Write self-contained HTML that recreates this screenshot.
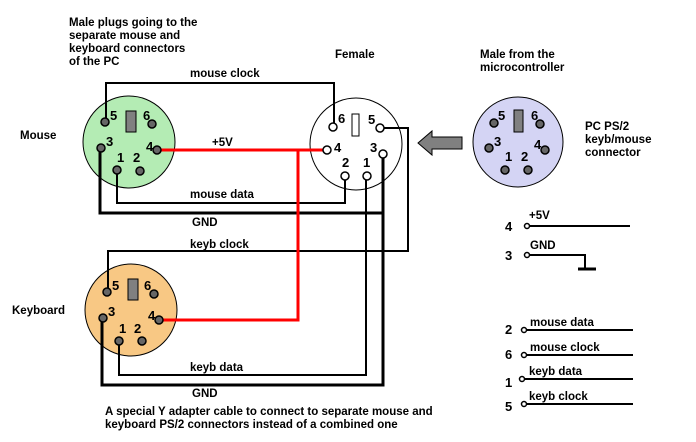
<!DOCTYPE html>
<html><head><meta charset="utf-8"><style>
html,body{margin:0;padding:0;background:#fff;}
svg{display:block;}
text{font-family:"Liberation Sans",sans-serif;font-weight:bold;font-size:11.5px;fill:#000;}
.n{font-size:13px;}
</style></head><body>
<svg width="696" height="442" viewBox="0 0 696 442" xmlns="http://www.w3.org/2000/svg">
<text x="69" y="26">Male plugs going to the</text>
<text x="69" y="39">separate mouse and</text>
<text x="69" y="52">keyboard connectors</text>
<text x="69" y="65">of the PC</text>
<text x="335" y="58">Female</text>
<text x="480" y="58">Male from the</text>
<text x="480" y="71">microcontroller</text>
<text x="190" y="77">mouse clock</text>
<text x="20" y="139">Mouse</text>
<text x="12" y="314">Keyboard</text>
<text x="212" y="146">+5V</text>
<text x="190" y="198">mouse data</text>
<text x="192" y="226">GND</text>
<text x="190" y="248">keyb clock</text>
<text x="190" y="371">keyb data</text>
<text x="192" y="397">GND</text>
<text x="105" y="415">A special Y adapter cable to connect to separate mouse and</text>
<text x="105" y="428">keyboard PS/2 connectors  instead  of a combined one</text>
<text x="585" y="130">PC PS/2</text>
<text x="585" y="143">keyb/mouse</text>
<text x="585" y="156">connector</text>

<circle cx="129" cy="142" r="46" fill="#b4ecb4" stroke="#000" stroke-width="1"/>
<circle cx="356" cy="144" r="46" fill="#fff" stroke="#000" stroke-width="1"/>
<circle cx="131" cy="310" r="46" fill="#f8c884" stroke="#000" stroke-width="1"/>
<circle cx="518" cy="142" r="45" fill="#d4d4f4" stroke="#000" stroke-width="1"/>

<rect x="126" y="111" width="10" height="21" fill="#808080" stroke="#000"/>
<rect x="352" y="114" width="7" height="22" fill="#fff" stroke="#000"/>
<rect x="128" y="279" width="10" height="21" fill="#808080" stroke="#000"/>
<rect x="514" y="110" width="9" height="22" fill="#808080" stroke="#000"/>

<g fill="none" stroke="#000" stroke-width="2">
<polyline points="106,124 106,83 334,83 334,126"/>
<polyline points="117,170 117,203 345,203 345,176"/>
<polyline points="380,128 408,128 408,251 108,251 108,292"/>
<polyline points="366,176 366,375 119,375 119,341"/>
</g>
<g fill="none" stroke="#000" stroke-width="3">
<polyline points="100,148 100,213 383,213"/>
<polyline points="383,154 383,385 102,385 102,318"/>
</g>
<g fill="none" stroke="#f00" stroke-width="3">
<polyline points="157,150 326,150"/>
<polyline points="298,150 298,320 159,320"/>
</g>

<g fill="#666" stroke="#000" stroke-width="1.5">
<circle cx="105" cy="122" r="4"/><circle cx="152" cy="124" r="4"/>
<circle cx="101" cy="148" r="4"/><circle cx="157" cy="150" r="4"/>
<circle cx="117" cy="170" r="4"/><circle cx="140" cy="171" r="4"/>
<circle cx="107" cy="292" r="4"/><circle cx="154" cy="294" r="4"/>
<circle cx="103" cy="318" r="4"/><circle cx="159" cy="320" r="4"/>
<circle cx="119" cy="341" r="4"/><circle cx="142" cy="341" r="4"/>
<circle cx="494" cy="123" r="4"/><circle cx="540" cy="124" r="4"/>
<circle cx="489" cy="148" r="4"/><circle cx="545" cy="150" r="4"/>
<circle cx="505" cy="170" r="4"/><circle cx="528" cy="170" r="4"/>
</g>
<g fill="#fff" stroke="#000" stroke-width="1.5">
<circle cx="333" cy="127" r="4"/><circle cx="380" cy="128" r="4"/>
<circle cx="327" cy="150" r="4"/><circle cx="383" cy="154" r="4"/>
<circle cx="345" cy="176" r="4"/><circle cx="367" cy="176" r="4"/>
</g>
<text class="n" x="110" y="120">5</text><text class="n" x="143" y="120">6</text>
<text class="n" x="106" y="146">3</text><text class="n" x="146" y="151">4</text>
<text class="n" x="117" y="162">1</text><text class="n" x="133" y="162">2</text>
<text class="n" x="338" y="123">6</text><text class="n" x="368" y="124">5</text>
<text class="n" x="334" y="152">4</text><text class="n" x="370" y="152">3</text>
<text class="n" x="342" y="167">2</text><text class="n" x="363" y="167">1</text>
<text class="n" x="112" y="290">5</text><text class="n" x="144" y="290">6</text>
<text class="n" x="108" y="316">3</text><text class="n" x="148" y="320">4</text>
<text class="n" x="119" y="333">1</text><text class="n" x="134" y="333">2</text>
<text class="n" x="498" y="120">5</text><text class="n" x="531" y="120">6</text>
<text class="n" x="494" y="146">3</text><text class="n" x="534" y="149">4</text>
<text class="n" x="505" y="161">1</text><text class="n" x="521" y="161">2</text>

<polygon points="418,143 432,131 432,137 462,137 462,149 432,149 432,155" fill="#808080" stroke="#000"/>

<g fill="none" stroke="#000" stroke-width="2">
<line x1="529" y1="226" x2="630" y2="226"/>
<polyline points="529,255 585,255 585,268"/>
<line x1="578" y1="269" x2="596" y2="269" stroke-width="3"/>
<line x1="526" y1="330" x2="633" y2="330"/>
<line x1="526" y1="355" x2="633" y2="355"/>
<line x1="524" y1="379" x2="633" y2="379"/>
<line x1="524" y1="404" x2="633" y2="404"/>
</g>
<g fill="#fff" stroke="#000" stroke-width="1.5">
<circle cx="527" cy="226" r="2.5"/><circle cx="527" cy="255" r="2.5"/>
<circle cx="524" cy="330" r="2.5"/><circle cx="524" cy="355" r="2.5"/>
<circle cx="522" cy="379" r="2.5"/><circle cx="524" cy="404" r="2.5"/>
</g>
<text class="n" x="505" y="231">4</text>
<text class="n" x="505" y="260">3</text>
<text class="n" x="505" y="334">2</text>
<text class="n" x="505" y="359">6</text>
<text class="n" x="505" y="387">1</text>
<text class="n" x="505" y="411">5</text>
<text x="529" y="219">+5V</text>
<text x="530" y="249">GND</text>
<text x="530" y="326">mouse data</text>
<text x="530" y="351">mouse clock</text>
<text x="529" y="375">keyb data</text>
<text x="529" y="400">keyb clock</text>
</svg>
</body></html>
